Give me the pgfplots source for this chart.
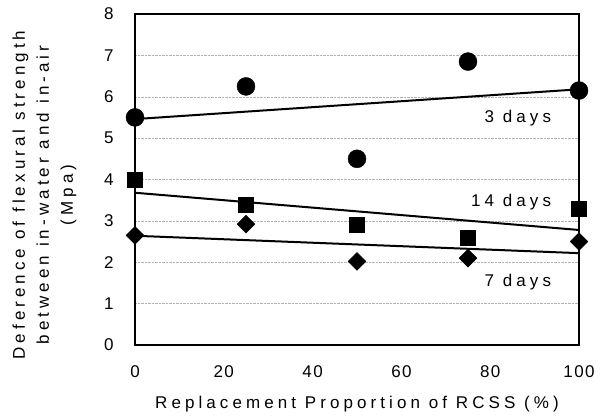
\documentclass[border=0pt]{standalone}
\usepackage{fontspec}
\setmainfont{Liberation Sans}
\newfontfamily\spaced[LetterSpace=24]{Liberation Sans}
\newfontfamily\tickfont[LetterSpace=8]{Liberation Sans}
\usepackage{pgfplots}
\pgfplotsset{compat=1.18}
\begin{document}
\begin{tikzpicture}
\path[use as bounding box] (-135pt,-72pt) rectangle (474pt,345pt);
\begin{axis}[
  at={(0pt,0pt)}, anchor=south west,
  scale only axis, width=444pt, height=331pt,
  xmin=0, xmax=100, ymin=0, ymax=8,
  xtick={0,20,40,60,80,100}, ytick={0,1,...,8},
  major tick length=0pt,
  axis line style={line width=2.2pt},
  ymajorgrids, grid style={densely dotted, gray!60, line width=0.5pt},
  clip=false,
  /pgf/number format/assume math mode=true,
  tick label style={font=\tickfont\fontsize{17}{19}\selectfont},
  xticklabel style={yshift=-17pt},
  yticklabel style={xshift=-18pt},
  xlabel={Replacement Proportion of RCSS (\%)},
  xlabel style={font=\spaced\fontsize{17}{19}\selectfont, at={(axis description cs:0.5,-0.18)}, anchor=center},
  ylabel={Deference of flexural strength\\between in-water and in-air\\(Mpa)},
  ylabel style={font=\spaced\fontsize{17}{24}\selectfont, align=center, at={(axis description cs:-0.124,0.453)}, anchor=south, rotate=0},
]
% 3 days
\addplot[only marks, mark=*, mark size=9pt, black] coordinates {(0,5.5) (25,6.25) (50,4.5) (75,6.85) (100,6.15)};
\addplot[black, line width=2pt] coordinates {(0,5.46) (100,6.18)};
% 14 days
\addplot[only marks, mark=square*, mark size=7.5pt, black] coordinates {(0,4.0) (25,3.4) (50,2.9) (75,2.6) (100,3.3)};
\addplot[black, line width=2pt] coordinates {(0,3.68) (100,2.78)};
% 7 days
\addplot[only marks, mark=square*, mark size=6.3pt, mark options={rotate=45}, black] coordinates {(0,2.65) (25,2.92) (50,2.02) (75,2.1) (100,2.5)};
\addplot[black, line width=2pt] coordinates {(0,2.64) (100,2.22)};
\node[anchor=east, font=\spaced\fontsize{17}{19}\selectfont] at (axis cs:94.5,5.48) {3 days};
\node[anchor=east, font=\spaced\fontsize{17}{19}\selectfont] at (axis cs:94.5,3.45) {14 days};
\node[anchor=east, font=\spaced\fontsize{17}{19}\selectfont] at (axis cs:94.5,1.52) {7 days};
\end{axis}
\end{tikzpicture}
\end{document}
